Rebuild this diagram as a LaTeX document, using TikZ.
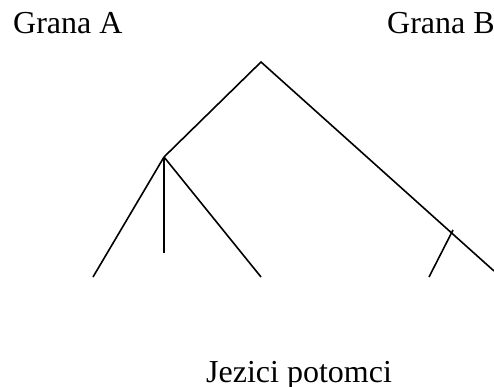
\documentclass[tikz,border=0pt]{standalone}
\usepackage{fontspec}
\setmainfont{Liberation Serif}
\begin{document}
\begin{tikzpicture}[x=1pt,y=-1pt,
  edge/.style={line width=1.6pt},
  lbl/.style={anchor=base west,inner sep=0pt,font=\fontsize{32}{32}\selectfont}]
\useasboundingbox (0,0) rectangle (494,387);
\coordinate (root) at (261,62);
\coordinate (a) at (164,157);
\coordinate (a1) at (93,277);
\coordinate (a2) at (164,253);
\coordinate (a3) at (261,277);
\coordinate (bend) at (494,271);
\coordinate (b) at (453,230);
\coordinate (b1) at (429,277);
\draw[edge] (a) -- (root) -- (bend);
\draw[edge] (a) -- (a1);
\draw[edge] (a) -- (a2);
\draw[edge] (a) -- (a3);
\draw[edge] (b) -- (b1);
\node[lbl] (ga) at (13,34) {Grana A};
\node[lbl] (gb) at (387,34) {Grana B};
\node[lbl] (jp) at (206,382) {Jezici potomci};
\end{tikzpicture}
\end{document}
